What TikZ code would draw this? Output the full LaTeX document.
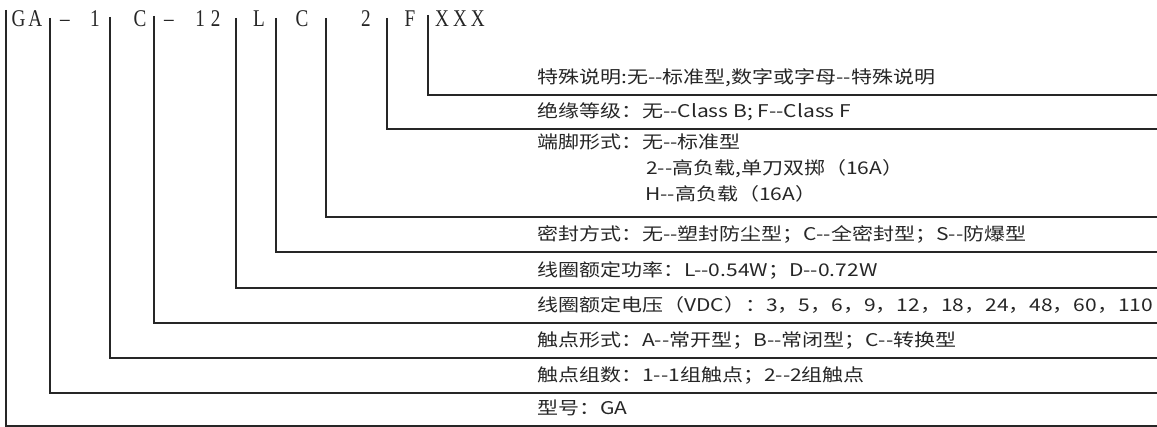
\documentclass[tikz,border=0pt]{standalone}
\usepackage{fontspec}
\setmainfont{Noto Sans CJK SC}
\newfontfamily\widecjk[FakeStretch=1.2]{Noto Sans CJK SC}
\newfontfamily\narrowserif[FakeStretch=0.8]{Liberation Serif}
\usetikzlibrary{positioning}
\tikzset{code/.style={anchor=base, inner sep=0pt, text=black!85,
           font=\narrowserif\fontsize{24}{26}\selectfont},
         desc/.style={anchor=base west, inner sep=0pt, text=black!85,
           font=\widecjk\fontsize{17.5}{22}\selectfont},
         bar/.style={line width=1.3pt, draw=black!85}}

\begin{document}
\begin{tikzpicture}[x=1pt, y=-1pt]
        \useasboundingbox (0,0) rectangle (1157,427);
        % Codes
        \node[code] (cGA) at (27,27) {G\hspace{3pt}A};
        \node[code] (cDashA) at (65,27) {–};
        \node[code] (cPoles) at (95,27) {1};
        \node[code] (cForm) at (140,27) {C};
        \node[code] (cDashB) at (169,27) {–};
        \node[code] (cVolt) at (208,27) {1\hspace{6pt}2};
        \node[code] (cPower) at (259,27) {L};
        \node[code] (cSeal) at (302,27) {C};
        \node[code] (cPin) at (366,27) {2};
        \node[code] (cIns) at (410,27) {F};
        \node[code] (cSpecial) at (460,27) {X\hspace{4pt}X\hspace{4pt}X};

        % Bar tops
        \coordinate (tType) at (6,10);
        \coordinate (tPoles) at (50,18);
        \coordinate (tForm) at (110,17);
        \coordinate (tVolt) at (154,16);
        \coordinate (tPower) at (236,18);
        \coordinate (tSeal) at (276,18);
        \coordinate (tPin) at (326,18);
        \coordinate (tIns) at (387,18);
        \coordinate (tSpecial) at (428,15);

        % Line ends
        \coordinate (eSpecial) at (1157,95);
        \coordinate (eIns) at (1157,129);
        \coordinate (ePin) at (1157,217);
        \coordinate (eSeal) at (1157,252);
        \coordinate (ePower) at (1157,288);
        \coordinate (eVolt) at (1157,323);
        \coordinate (eForm) at (1157,358);
        \coordinate (ePoles) at (1157,393);
        \coordinate (eType) at (1157,426);

        % Descriptions
        \node[desc] (dSpecial) at (537,83.5) {特殊说明:无--标准型,数字或字母--特殊说明};
        \node[desc] (dIns) at (537,117.5) {绝缘等级：无--Class B; F--Class F};
        \node[desc] (dPin) at (537,149) {端脚形式：无--标准型};
        \node[desc] (dPinB) at (646,175) {2--高负载,单刀双掷（16A）};
        \node[desc] (dPinC) at (645,201) {H--高负载（16A）};
        \node[desc] (dSeal) at (537,240.5) {密封方式：无--塑封防尘型；C--全密封型；S--防爆型};
        \node[desc] (dPower) at (537,276.5) {线圈额定功率：L--0.54W；D--0.72W};
        \node[desc] (dVolt) at (537,311.5) {线圈额定电压（VDC）：3，5，6，9，12，18，24，48，60，110};
        \node[desc] (dForm) at (537,346.5) {触点形式：A--常开型；B--常闭型；C--转换型};
        \node[desc] (dPoles) at (537,381.5) {触点组数：1--1组触点；2--2组触点};
        \node[desc] (dType) at (537,414.5) {型号：GA};

        % Edges
        \draw[bar] (tSpecial) |- (eSpecial);
        \draw[bar] (tIns) |- (eIns);
        \draw[bar] (tPin) |- (ePin);
        \draw[bar] (tSeal) |- (eSeal);
        \draw[bar] (tPower) |- (ePower);
        \draw[bar] (tVolt) |- (eVolt);
        \draw[bar] (tForm) |- (eForm);
        \draw[bar] (tPoles) |- (ePoles);
        \draw[bar] (tType) |- (eType);
    \end{tikzpicture}
\end{document}
